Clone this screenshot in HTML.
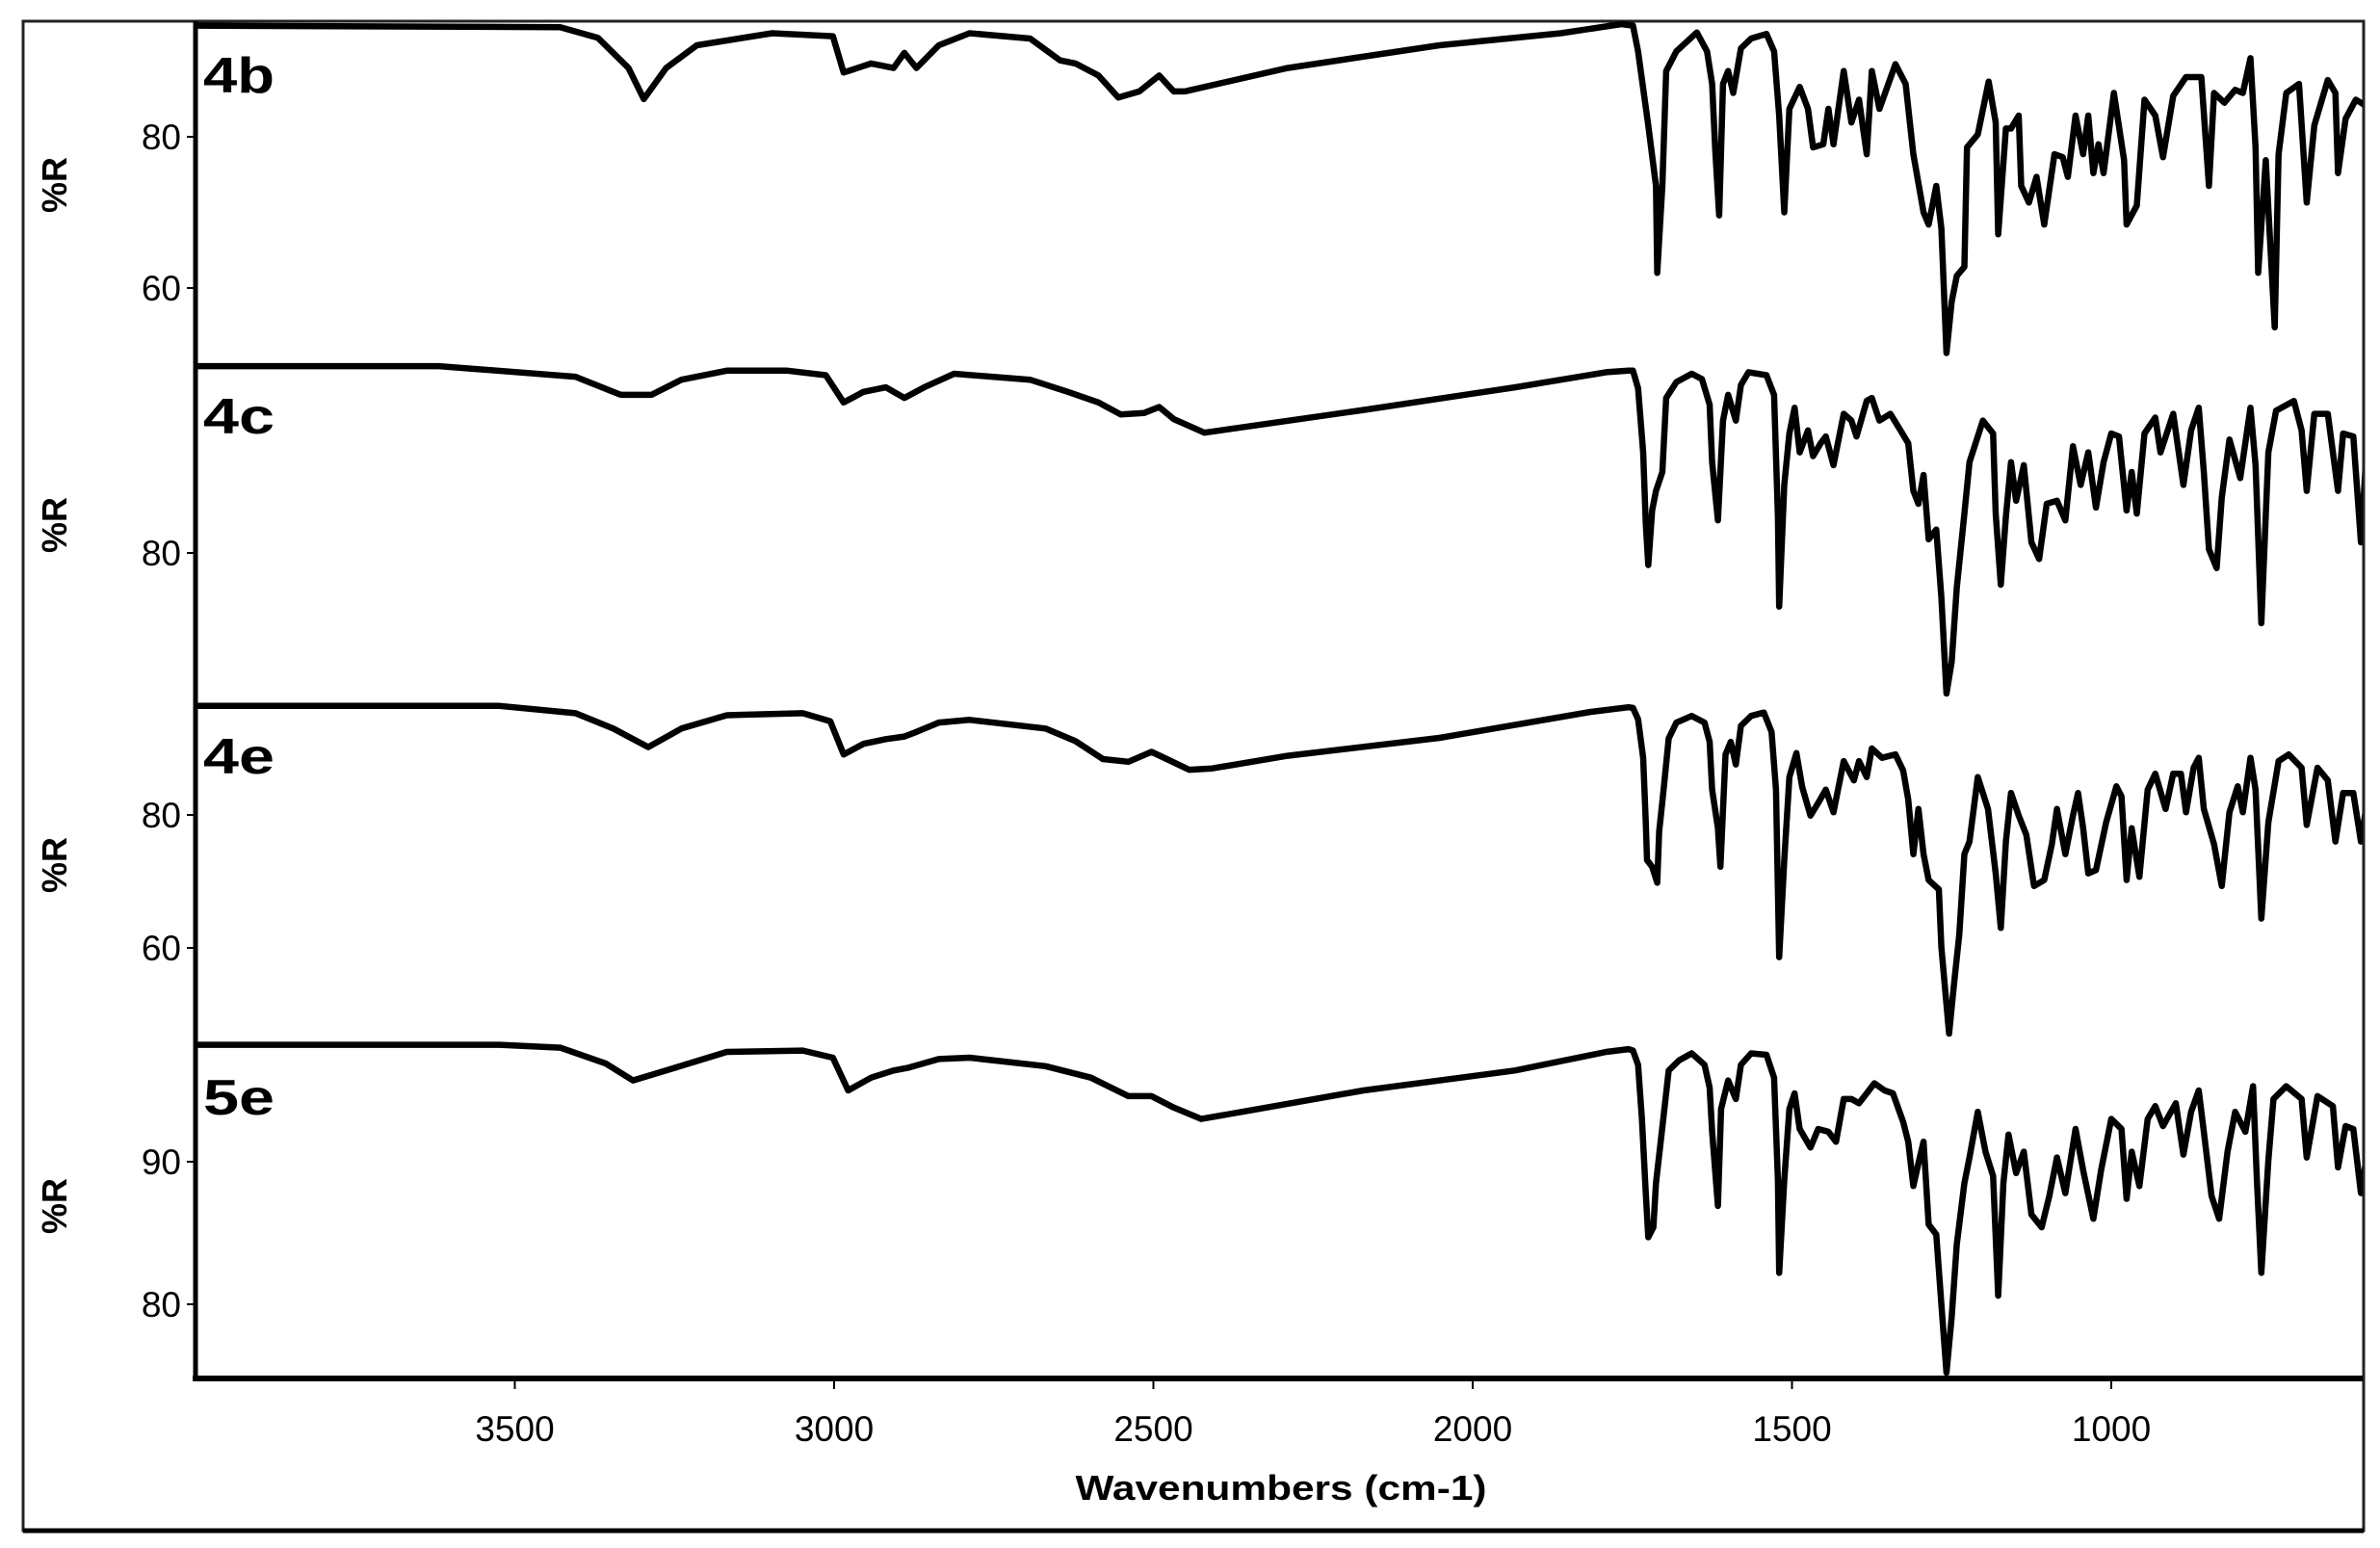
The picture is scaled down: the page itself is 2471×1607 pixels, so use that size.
<!DOCTYPE html>
<html>
<head>
<meta charset="utf-8">
<style>
  html,body{margin:0;padding:0;background:#fff;}
  svg{display:block;}
  text{font-family:"Liberation Sans",Arial,sans-serif;fill:#000;}
</style>
</head>
<body>
<svg id="chart" width="2471" height="1607" viewBox="0 0 2471 1607" xmlns="http://www.w3.org/2000/svg">
  <rect x="24" y="22" width="2430" height="1567" fill="none" stroke="#222" stroke-width="3"/>
  <line x1="24" y1="1589" x2="2454" y2="1589" stroke="#000" stroke-width="5"/>
  <defs>
    <clipPath id="plotclip"><rect x="203" y="20" width="2250" height="1412"/></clipPath>
  </defs>
  <g id="series" clip-path="url(#plotclip)"></g>
  <line x1="203" y1="22" x2="203" y2="1434" stroke="#000" stroke-width="5"/>
  <line x1="200" y1="1431" x2="2453" y2="1431" stroke="#000" stroke-width="6"/>
  <g id="xticks"></g>
  <g id="yticks"></g>
  <g id="labels"></g>
  <text x="1330" y="1557" text-anchor="middle" font-size="36" font-weight="bold" textLength="427" lengthAdjust="spacingAndGlyphs">Wavenumbers (cm-1)</text>
</svg>
<script>
// ---- data ----
const panelNames = ["4b","4c","4e","5e"];
const xTickValues = [3500,3000,2500,2000,1500,1000];
const yTicks4b = [80,60];
const yTicks4c = [80];
const yTicks4e = [80,60];
const yTicks5e = [90,80];

const wn4b = [4000,3429,3370,3322,3298,3263,3215,3097,3002,2985,2942,2907,2890,2871,2836,2788,2693,2646,2622,2586,2555,2522,2491,2468,2451,2290,2052,1862,1767,
1749,1741,1725,1713,1711,1703,1697,1681,1649,1633,1625,1620,1614,1608,1600,1592,1580,1564,1540,1528,1520,1512,1504,1488,1475,1467,1451,1443,1435,1419,1407,1395,1383,1375,1363,1338,1322,1310,1294,1286,1274,1266,1258,1250,1242,1230,1226,1209,1192,1181,1177,1165,1157,1145,1141,1129,1117,1105,1089,1076,1068,1056,1044,1036,1028,1020,1012,996,980,976,960,948,931,919,903,883,859,847,839,823,806,794,782,774,770,758,744,738,726,706,694,682,661,649,645,633,617,593];
const pr4b = [94.7,94.5,93.1,89.1,85.0,89.1,92.1,93.7,93.3,88.5,89.7,89.1,91.1,89.1,92.1,93.7,93.0,90.1,89.7,88.1,85.2,86.0,88.1,86.0,86.0,89.1,92.1,93.7,94.9,
94.7,91.3,81.5,73.5,62.0,73.5,88.7,91.3,93.8,91.3,87.0,78.1,69.6,87.0,88.7,85.8,91.7,93.0,93.6,91.3,82.8,70.0,83.7,86.6,83.7,78.6,79.0,83.7,79.0,88.7,81.9,84.9,77.7,88.7,83.7,89.6,87.0,77.7,70.0,68.4,73.5,67.9,51.4,58.2,61.6,62.8,78.6,80.3,87.3,81.9,67.1,81.1,81.1,82.8,73.5,71.3,74.7,68.4,77.7,77.3,74.7,82.8,77.7,82.8,75.2,79.0,75.2,85.8,76.9,68.4,70.9,84.9,82.8,77.3,85.4,87.9,87.9,73.5,85.8,84.5,86.2,85.8,90.4,78.6,62.0,76.9,54.8,77.7,85.8,87.0,71.3,81.5,87.5,85.8,75.2,82.4,84.9,83.7];

const wn4c = [4000,3619,3405,3334,3286,3239,3168,3073,3013,2985,2954,2919,2890,2859,2812,2693,2634,2586,2551,2515,2491,2468,2420,2337,2171,1934,1791,1756,
1749,1741,1733,1729,1725,1719,1713,1703,1697,1681,1657,1641,1629,1625,1616,1608,1600,1588,1580,1568,1540,1528,1522,1520,1512,1504,1496,1488,1475,1467,1455,1447,1435,1419,1407,1399,1383,1375,1363,1346,1330,1318,1310,1302,1294,1286,1274,1266,1258,1250,1242,1230,1222,1201,1185,1181,1173,1165,1157,1149,1137,1125,1113,1101,1085,1072,1060,1048,1036,1024,1012,1000,988,976,968,960,948,931,923,903,887,875,863,855,847,835,827,815,798,782,774,765,754,742,714,702,694,682,661,645,637,621,609,601,593];
const pr4c = [104.7,104.7,103.3,100.9,100.9,102.9,104.1,104.1,103.5,99.9,101.3,101.9,100.5,101.9,103.7,102.9,101.3,99.9,98.3,98.5,99.3,97.7,95.9,96.9,98.9,101.9,103.9,104.1,
104.1,101.8,93.3,83.9,78.4,85.6,88.2,90.7,100.5,102.6,103.7,103.0,99.6,92.0,84.3,97.5,100.9,97.5,102.2,103.9,103.5,100.9,84.8,72.9,89.0,95.8,99.2,93.3,96.2,92.8,94.5,95.4,91.6,98.4,97.5,95.4,100.1,100.5,97.5,98.4,96.2,94.5,88.2,86.5,90.3,81.8,83.1,74.1,61.4,65.6,75.4,85.2,92.0,97.5,95.8,85.2,75.8,84.8,92.0,86.9,91.6,81.4,79.2,86.5,86.9,84.3,94.1,89.0,93.3,86.0,92.0,95.8,95.4,85.6,90.7,85.2,95.8,97.9,93.3,98.4,89.0,96.2,99.2,90.7,80.5,78.0,87.3,95.0,89.9,99.2,91.6,70.7,93.3,98.8,100.1,96.2,88.2,98.4,98.4,88.2,95.8,95.4,81.4,92.4,92.4];

const wn4e = [4000,3524,3405,3346,3291,3239,3168,3049,3006,2985,2954,2919,2890,2871,2836,2788,2669,2622,2579,2539,2503,2479,2444,2408,2290,2052,1815,1756,
1749,1741,1733,1729,1727,1719,1711,1708,1701,1693,1681,1657,1637,1629,1625,1616,1612,1604,1596,1588,1580,1564,1544,1532,1525,1520,1512,1504,1493,1484,1471,1459,1447,1435,1419,1403,1395,1383,1375,1359,1338,1326,1318,1310,1302,1294,1286,1270,1266,1254,1246,1238,1230,1222,1209,1193,1181,1173,1165,1157,1145,1133,1121,1105,1093,1085,1072,1060,1052,1044,1036,1024,1008,992,984,976,968,956,943,931,915,903,891,883,871,863,855,839,827,815,802,794,782,774,765,754,738,722,702,694,677,661,649,637,621,609,601,593];
const pr4e = [96.4,96.4,95.3,93.0,90.2,93.0,95.0,95.3,94.1,89.1,90.7,91.4,91.8,92.5,93.9,94.3,93.0,91.1,88.4,88.0,89.5,88.4,86.8,87.0,88.9,91.6,95.5,96.2,
96.1,94.4,88.6,78.9,73.2,72.2,69.8,77.5,83.8,91.5,93.9,94.9,93.9,91.0,83.8,78.0,72.2,89.1,91.0,87.6,93.4,94.9,95.4,92.5,83.8,58.6,73.2,85.7,89.3,84.2,79.9,81.8,83.8,80.4,88.1,85.2,88.1,85.7,90.0,88.6,89.1,86.7,82.3,74.1,80.9,74.1,70.2,68.8,60.1,47.1,54.8,62.0,74.1,76.0,85.7,80.9,71.2,63.0,76.0,83.3,79.9,77.0,69.3,70.2,75.6,80.9,74.1,79.9,83.3,78.0,71.2,71.7,78.9,84.3,82.8,70.2,78.0,70.7,83.8,86.2,80.9,86.2,86.2,80.4,87.1,88.6,80.9,75.6,69.3,80.4,84.3,80.4,88.6,83.8,64.4,78.9,88.1,89.1,87.1,78.5,87.1,85.2,76.0,83.3,83.3,76.0,80.9,80.9];

const wn5e = [4000,3524,3429,3358,3315,3263,3168,3049,3002,2978,2942,2907,2883,2836,2788,2669,2598,2539,2503,2468,2425,2361,2171,1934,1791,1756,
1749,1741,1735,1729,1725,1717,1713,1701,1693,1677,1657,1637,1629,1625,1616,1611,1600,1588,1580,1564,1540,1528,1522,1520,1512,1504,1496,1488,1471,1459,1443,1431,1419,1407,1395,1383,1371,1355,1342,1326,1318,1310,1302,1294,1286,1274,1266,1258,1250,1242,1230,1222,1209,1197,1185,1177,1169,1161,1149,1137,1125,1109,1097,1085,1072,1056,1044,1028,1016,1000,984,976,968,956,943,931,919,899,887,875,863,855,843,831,818,806,790,778,772,765,754,746,726,702,694,677,653,645,633,621,609,597,593];
const pr5e = [98.2,98.2,98.0,96.9,95.7,96.4,97.7,97.8,97.3,95.0,95.9,96.4,96.6,97.2,97.3,96.7,95.9,94.6,94.6,93.8,93.0,93.5,95.0,96.4,97.7,97.9,
97.8,96.8,93.0,87.8,84.7,85.4,88.5,93.2,96.4,97.1,97.6,96.8,95.2,92.1,86.9,93.7,95.7,94.4,96.8,97.6,97.5,95.9,88.7,82.2,88.7,93.7,94.8,92.3,91.0,92.3,92.1,91.4,94.4,94.4,94.1,94.8,95.5,95.0,94.8,92.8,91.4,88.3,89.9,91.4,85.6,84.9,80.0,75.2,79.1,84.2,88.5,90.3,93.5,90.7,89.0,80.6,88.5,91.9,89.2,90.7,86.3,85.4,87.6,90.3,87.8,92.3,89.4,86.0,89.4,93.0,92.3,87.4,90.7,88.3,93.0,93.9,92.5,94.1,90.5,93.5,95.0,92.1,87.6,86.0,90.7,93.5,92.1,95.3,88.7,82.2,90.1,94.4,95.3,94.4,90.3,94.6,93.9,89.6,92.5,92.3,87.8,91.2,91.0];

// ---- axis functions ----
const NS = "http://www.w3.org/2000/svg";
function xScale(w){ return 2192 - (w - 1000) * 0.663; }
function yScale4b(v){ return 142 + (80 - v) * 7.85; }
function yScale4c(v){ return 574 + (80 - v) * 7.85; }
function yScale4e(v){ return 846 + (80 - v) * 6.9; }
function yScale5e(v){ return 1206 + (90 - v) * 14.8; }

const panels = [
  {name: panelNames[0], wn: wn4b, pr: pr4b, ys: yScale4b, ticks: yTicks4b, labelY: 96, rY: 192},
  {name: panelNames[1], wn: wn4c, pr: pr4c, ys: yScale4c, ticks: yTicks4c, labelY: 450, rY: 545},
  {name: panelNames[2], wn: wn4e, pr: pr4e, ys: yScale4e, ticks: yTicks4e, labelY: 803, rY: 898},
  {name: panelNames[3], wn: wn5e, pr: pr5e, ys: yScale5e, ticks: yTicks5e, labelY: 1157, rY: 1252}
];

const gS = document.getElementById("series");
const gY = document.getElementById("yticks");
const gX = document.getElementById("xticks");
const gL = document.getElementById("labels");

panels.forEach(function(p){
  let d = "";
  for (let i = 0; i < p.wn.length; i++) {
    d += (i ? "L" : "M") + xScale(p.wn[i]).toFixed(1) + "," + p.ys(p.pr[i]).toFixed(1);
  }
  const path = document.createElementNS(NS, "path");
  path.setAttribute("d", d);
  path.setAttribute("fill", "none");
  path.setAttribute("stroke", "#000");
  path.setAttribute("stroke-width", "6.5");
  path.setAttribute("stroke-linejoin", "round");
  
  
  gS.appendChild(path);

  p.ticks.forEach(function(t){
    const y = p.ys(t);
    const tk = document.createElementNS(NS, "line");
    tk.setAttribute("x1", 194); tk.setAttribute("x2", 203);
    tk.setAttribute("y1", y); tk.setAttribute("y2", y);
    tk.setAttribute("stroke", "#000"); tk.setAttribute("stroke-width", "2");
    
    
    gY.appendChild(tk);
    const tx = document.createElementNS(NS, "text");
    tx.setAttribute("x", 188); tx.setAttribute("y", y + 13);
    tx.setAttribute("text-anchor", "end");
    tx.setAttribute("font-size", "37");
    tx.textContent = t;
    
    
    gY.appendChild(tx);
  });

  const lb = document.createElementNS(NS, "text");
  lb.setAttribute("x", 211); lb.setAttribute("y", p.labelY);
  lb.setAttribute("font-size", "52");
  lb.setAttribute("font-weight", "900");
  lb.setAttribute("textLength", "74");
  lb.setAttribute("lengthAdjust", "spacingAndGlyphs");
  lb.textContent = p.name;
  
  
  gL.appendChild(lb);

  const r = document.createElementNS(NS, "text");
  r.setAttribute("x", 0); r.setAttribute("y", 0);
  r.setAttribute("transform", "translate(69," + p.rY + ") rotate(-90)");
  r.setAttribute("text-anchor", "middle");
  r.setAttribute("font-size", "36");
  r.setAttribute("font-weight", "bold");
  r.textContent = "%R";
  
  
  gL.appendChild(r);
});

xTickValues.forEach(function(w){
  const x = xScale(w);
  const tk = document.createElementNS(NS, "line");
  tk.setAttribute("x1", x); tk.setAttribute("x2", x);
  tk.setAttribute("y1", 1431); tk.setAttribute("y2", 1442);
  tk.setAttribute("stroke", "#000"); tk.setAttribute("stroke-width", "2");
  
  
  gX.appendChild(tk);
  const tx = document.createElementNS(NS, "text");
  tx.setAttribute("x", x); tx.setAttribute("y", 1496);
  tx.setAttribute("text-anchor", "middle");
  tx.setAttribute("font-size", "37");
  tx.textContent = w;
  
  
  gX.appendChild(tx);
});
</script>
</body>
</html>
